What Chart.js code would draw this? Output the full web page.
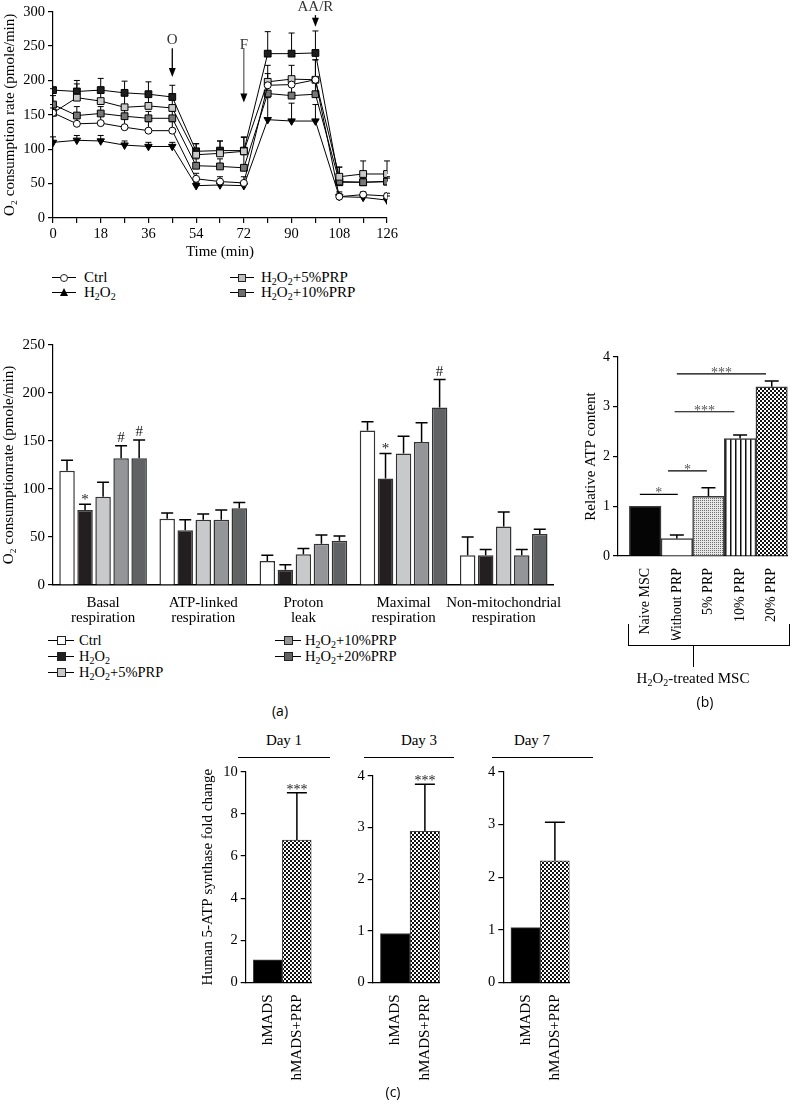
<!DOCTYPE html>
<html>
<head>
<meta charset="utf-8">
<script src="https://cdn.jsdelivr.net/npm/chart.js@4.4.0/dist/chart.umd.min.js"></script>
<style>
body { margin:0; width:793px; height:1115px; position:relative; background:#fff; overflow:hidden;
       font-family:'Liberation Serif', serif; color:#000; }
.box { position:absolute; }
.txt { position:absolute; white-space:nowrap; line-height:1; font-size:14px; }
.ctr { transform:translate(-50%, -50%); }
.txt sub { font-size:10px; vertical-align:-3px; line-height:0; }
.hl { position:absolute; height:0; border-top:1.2px solid #000; }
.vl { position:absolute; width:0; border-left:1.2px solid #000; }
.mk { position:absolute; box-sizing:border-box; }
.panel { font-family:'Open Sans', sans-serif; font-size:14px; }
</style>
</head>
<body>

<div class="box" style="left:0;top:0;width:400px;height:264px"><canvas id="ocr"></canvas></div>
<div class="box" style="left:0;top:330px;width:565px;height:300px"><canvas id="resp"></canvas></div>
<div class="box" style="left:560px;top:340px;width:233px;height:300px"><canvas id="atp"></canvas></div>
<div class="box" style="left:198px;top:760px;width:122px;height:330px"><canvas id="day1"></canvas></div>
<div class="box" style="left:330px;top:760px;width:118px;height:330px"><canvas id="day3"></canvas></div>
<div class="box" style="left:460px;top:760px;width:118px;height:330px"><canvas id="day7"></canvas></div>

<script>
// Oxygen consumption time course
const times = [0, 9, 18, 27, 36, 45, 54, 63, 72, 81, 90, 99, 108, 117, 126];
const ocrCtrl = [153, 137, 138, 132, 127, 127, 57, 53, 51, 193, 194, 201, 31, 34, 32];
const ocrCtrlErr = [160, 150, 150, 145, 140, 140, 65, 60, 60, 210, 205, 230, 38, 38, 36];
const ocrH2O2 = [110, 113, 112, 106, 104, 104, 47, 48, 47, 143, 141, 141, 31, 30, 26];
const ocrH2O2Err = [118, 120, 120, 112, 110, 110, 52, 52, 52, 175, 167, 165, 36, 36, 32];
const ocr5 = [153, 175, 170, 161, 163, 160, 92, 94, 97, 198, 202, 201, 60, 64, 64];
const ocr5Err = [165, 195, 190, 178, 178, 172, 108, 112, 118, 222, 222, 230, 74, 83, 83];
const ocr10 = [165, 149, 152, 148, 145, 145, 76, 75, 73, 181, 178, 180, 53, 52, 53];
const ocr10Err = [178, 162, 162, 158, 155, 155, 86, 86, 92, 196, 196, 200, 60, 58, 58];
const ocr20 = [186, 184, 186, 182, 180, 176, 97, 98, 98, 239, 239, 240, 52, 52, 53];
const ocr20Err = [188, 200, 203, 199, 198, 193, 108, 112, 117, 271, 269, 272, 74, 60, 60];

// Respiration parameters
const respCategories = [['Basal', 'respiration'], ['ATP-linked', 'respiration'], ['Proton', 'leak'],
                        ['Maximal', 'respiration'], ['Non-mitochondrial', 'respiration']];
const respCtrl = [119, 69, 25, 161, 31];
const respCtrlErr = [130, 75, 31, 170, 50];
const respH2O2 = [78, 57, 16, 111, 31];
const respH2O2Err = [84, 68, 21, 137, 37];
const resp5 = [92, 68, 32, 137, 61];
const resp5Err = [107, 74, 38, 155, 76];
const resp10 = [132, 68, 43, 149, 31];
const resp10Err = [145, 78, 52, 169, 37];
const resp20 = [132, 80, 46, 185, 53];
const resp20Err = [151, 86, 51, 214, 58];
const respSigH2O2 = ['*', '', '', '*', ''];
const respSig10 = ['#', '', '', '', ''];
const respSig20 = ['#', '', '', '#', ''];

// Relative ATP content
const atpGroups = ['Naive MSC', 'Without PRP', '5% PRP', '10% PRP', '20% PRP'];
const atpValues = [1.0, 0.35, 1.2, 2.36, 3.4];
const atpErr = [null, 0.42, 1.37, 2.43, 3.52];
const atpSigFrom = [0.83, 1.72, 1.93, 2.0];
const atpSigTo = [2.03, 2.95, 3.82, 4.82];
const atpSigLevel = [1.24, 1.71, 2.9, 3.66];
const atpSigText = ['*', '*', '***', '***'];

// ATP synthase fold change
const synthGroups = ['hMADS', 'hMADS+PRP'];
const day1Values = [1.07, 6.76];
const day1Err = [null, 9.0];
const day3Values = [0.95, 2.93];
const day3Err = [null, 3.84];
const day7Values = [1.04, 2.31];
const day7Err = [null, 3.04];

Chart.defaults.font.family = "'Liberation Serif', serif";
Chart.defaults.font.size = 14;
Chart.defaults.color = '#000';

// Patterns
function makePattern(w, h, draw) {
    const c = document.createElement('canvas');
    c.width = w; c.height = h;
    const g = c.getContext('2d');
    draw(g);
    return g.createPattern(c, 'repeat');
}
const checker = makePattern(4, 4, g => {
    g.fillStyle = '#fff'; g.fillRect(0, 0, 4, 4);
    g.fillStyle = '#111'; g.fillRect(0, 0, 2, 2); g.fillRect(2, 2, 2, 2);
});
const stipple = makePattern(2, 2, g => {
    g.fillStyle = '#e6e6e6'; g.fillRect(0, 0, 2, 2);
    g.fillStyle = '#707070'; g.fillRect(0, 0, 1, 1);
});
const stripes = makePattern(5, 1, g => {
    g.fillStyle = '#fff'; g.fillRect(0, 0, 5, 1);
    g.fillStyle = '#111'; g.fillRect(0, 0, 1.5, 1);
});

// Error bars + significance marks
function drawErrors(chart, opts) {
    const ctx = chart.ctx;
    const ys = chart.scales.y;
    chart.data.datasets.forEach((ds, di) => {
        if (!ds.errTop) return;
        chart.getDatasetMeta(di).data.forEach((el, i) => {
            const top = ds.errTop[i];
            if (top == null) return;
            const yt = ys.getPixelForValue(top);
            ctx.save();
            ctx.strokeStyle = '#000';
            ctx.lineWidth = opts.width || 1.5;
            ctx.beginPath();
            ctx.moveTo(el.x, el.y);
            ctx.lineTo(el.x, yt);
            ctx.moveTo(el.x - opts.cap / 2, yt);
            ctx.lineTo(el.x + opts.cap / 2, yt);
            ctx.stroke();
            const mark = ds.sig ? ds.sig[i] : '';
            if (mark) {
                ctx.fillStyle = '#222';
                ctx.font = (opts.sigSize || 14) + "px 'Liberation Serif'";
                ctx.textAlign = 'center';
                ctx.textBaseline = 'alphabetic';
                ctx.fillText(mark, el.x, yt + (mark === '#' ? -4 : (opts.starOffset || 0)));
            }
            ctx.restore();
        });
    });
}
const errorBars = {
    id: 'errorBars',
    beforeDatasetsDraw(chart, args, opts) { if (opts.behind) drawErrors(chart, opts); },
    afterDatasetsDraw(chart, args, opts) { if (!opts.behind) drawErrors(chart, opts); }
};

// Injection arrows on the time course
const arrowsPlugin = {
    id: 'arrows',
    afterDatasetsDraw(chart, args, opts) {
        const ctx = chart.ctx, xs = chart.scales.x, ys = chart.scales.y;
        opts.items.forEach(it => {
            const px = xs.getPixelForValue(it.x);
            const y0 = ys.getPixelForValue(it.from), y1 = ys.getPixelForValue(it.to);
            ctx.save();
            ctx.strokeStyle = '#000'; ctx.fillStyle = '#000'; ctx.lineWidth = it.w;
            ctx.beginPath(); ctx.moveTo(px, y0); ctx.lineTo(px, y1 - 6); ctx.stroke();
            ctx.beginPath(); ctx.moveTo(px - 3.5, y1 - 9); ctx.lineTo(px + 3.5, y1 - 9); ctx.lineTo(px, y1);
            ctx.closePath(); ctx.fill();
            ctx.font = "15px 'Liberation Serif'";
            ctx.fillStyle = '#333'; ctx.textAlign = 'center'; ctx.textBaseline = 'middle';
            ctx.fillText(it.label, px, ys.getPixelForValue(it.labelY));
            ctx.restore();
        });
    }
};

// Comparison lines on the ATP panel
const sigLines = {
    id: 'sigLines',
    afterDatasetsDraw(chart) {
        const ctx = chart.ctx, xs = chart.scales.x, ys = chart.scales.y;
        atpSigText.forEach((t, i) => {
            const x0 = xs.getPixelForValue(atpSigFrom[i]), x1 = xs.getPixelForValue(atpSigTo[i]);
            const y = ys.getPixelForValue(atpSigLevel[i]);
            ctx.save();
            ctx.strokeStyle = '#000'; ctx.lineWidth = 1.2;
            ctx.beginPath(); ctx.moveTo(x0, y); ctx.lineTo(x1, y); ctx.stroke();
            ctx.fillStyle = '#555'; ctx.font = "14px 'Liberation Serif'";
            ctx.textAlign = 'center'; ctx.textBaseline = 'alphabetic';
            ctx.fillText(t, (x0 + x1) / 2, y + 3);
            ctx.restore();
        });
    }
};

function yAxis(min, max, step, width, title, size, titleSize, titlePad) {
    return {
        min: min, max: max,
        afterFit: s => { s.width = width; },
        ticks: { stepSize: step, padding: 3, font: { size: size } },
        grid: { drawOnChartArea: false, tickLength: 5, color: '#000', lineWidth: 1.2 },
        border: { color: '#000', width: 1.2 },
        title: { display: !!title, text: title, font: { size: titleSize || size },
                 padding: { top: titlePad == null ? 2 : titlePad, bottom: 0 } }
    };
}

function series(label, values, err, style, fill, rotation) {
    return {
        label: label,
        data: times.map((t, i) => ({ x: t, y: values[i] })),
        errTop: err,
        borderColor: '#000', borderWidth: 1,
        pointStyle: style, pointRotation: rotation || 0,
        pointRadius: style === 'rect' ? 4.8 : (style === 'circle' ? 3.5 : 4.3),
        pointBackgroundColor: fill, pointBorderColor: '#000', pointBorderWidth: 1
    };
}

new Chart(document.getElementById('ocr'), {
    type: 'line',
    data: {
        datasets: [
            series('Ctrl', ocrCtrl, ocrCtrlErr, 'circle', '#fff'),
            series('H2O2', ocrH2O2, ocrH2O2Err, 'triangle', '#000', 180),
            series('H2O2+5%PRP', ocr5, ocr5Err, 'rect', '#c9c9c9'),
            series('H2O2+10%PRP', ocr10, ocr10Err, 'rect', '#777'),
            series('H2O2+20%PRP', ocr20, ocr20Err, 'rect', '#1e1e1e')
        ]
    },
    options: {
        responsive: true, maintainAspectRatio: false, animation: false, devicePixelRatio: 1,
        layout: { padding: { top: 10, right: 13, left: 0, bottom: 0 } },
        plugins: {
            legend: { display: false }, tooltip: { enabled: false },
            errorBars: { behind: true, cap: 6, width: 1 },
            arrows: { items: [
                { x: 45, from: 247, to: 205, labelY: 259, label: 'O', w: 1.3 },
                { x: 72, from: 247, to: 168, labelY: 252, label: 'F', w: 0.8 },
                { x: 99, from: 295, to: 278, labelY: 307, label: 'AA/R', w: 1.3 }
            ] }
        },
        scales: {
            x: {
                type: 'linear', min: 0, max: 126,
                afterFit: s => { s.height = 46; },
                ticks: { stepSize: 9, autoSkip: false, maxRotation: 0, padding: 2, font: { size: 14.5 },
                         callback: v => (v % 18 === 0 ? v : '') },
                grid: { drawOnChartArea: false, tickLength: 5, color: '#000', lineWidth: 1.2 },
                border: { color: '#000', width: 1.2 },
                title: { display: true, text: 'Time (min)', font: { size: 15 }, padding: { top: 2, bottom: 3 } }
            },
            y: yAxis(0, 300, 50, 53, 'O₂ consumption rate (pmole/min)', 14.5, 15, 1)
        }
    },
    plugins: [errorBars, arrowsPlugin]
});

function respSet(label, values, err, fill, sig) {
    return { label: label, data: values, errTop: err, sig: sig, backgroundColor: fill,
             borderColor: '#333', borderWidth: 1.5 };
}

new Chart(document.getElementById('resp'), {
    type: 'bar',
    data: {
        labels: respCategories,
        datasets: [
            respSet('Ctrl', respCtrl, respCtrlErr, '#fff'),
            respSet('H2O2', respH2O2, respH2O2Err, '#231f20', respSigH2O2),
            respSet('H2O2+5%PRP', resp5, resp5Err, '#c8c9ca'),
            respSet('H2O2+10%PRP', resp10, resp10Err, '#939598', respSig10),
            respSet('H2O2+20%PRP', resp20, resp20Err, '#616264', respSig20)
        ]
    },
    options: {
        responsive: true, maintainAspectRatio: false, animation: false, devicePixelRatio: 1,
        layout: { padding: { top: 15, right: 8, left: 0, bottom: 0 } },
        datasets: { bar: { categoryPercentage: 0.9, barPercentage: 0.86 } },
        plugins: { legend: { display: false }, tooltip: { enabled: false },
                   errorBars: { cap: 12, width: 1.5, sigSize: 15, starOffset: 0 } },
        scales: {
            x: {
                afterFit: s => { s.height = 45; },
                ticks: { autoSkip: false, maxRotation: 0, padding: 3, font: { size: 15, lineHeight: 1.0 } },
                grid: { display: false },
                border: { color: '#000', width: 1.5 }
            },
            y: yAxis(0, 250, 50, 53, 'O₂ consumptionrate (pmole/min)', 15, 15, 0)
        }
    },
    plugins: [errorBars]
});

function linearGroups(groups, min, max, height, size) {
    return {
        type: 'linear', min: min, max: max, offset: false,
        afterFit: s => { s.height = height; },
        afterBuildTicks: s => { s.ticks = groups.map((g, i) => ({ value: i + 1 })); },
        ticks: { autoSkip: false, minRotation: 90, maxRotation: 90, padding: 4, font: { size: size },
                 callback: v => groups[v - 1] },
        grid: { display: false },
        border: { color: '#000', width: 1.2 }
    };
}

new Chart(document.getElementById('atp'), {
    type: 'bar',
    data: {
        datasets: [{
            data: atpValues.map((v, i) => ({ x: i + 1, y: v })),
            errTop: atpErr,
            backgroundColor: ['#050505', '#fff', stipple, stripes, checker],
            borderColor: '#3a3a3a', borderWidth: 1.5,
            categoryPercentage: 1, barPercentage: 1
        }]
    },
    options: {
        responsive: true, maintainAspectRatio: false, animation: false, devicePixelRatio: 1,
        layout: { padding: { top: 17, right: 5, left: 0, bottom: 0 } },
        plugins: { legend: { display: false }, tooltip: { enabled: false },
                   errorBars: { cap: 14, width: 1.5 } },
        scales: {
            x: linearGroups(atpGroups, 0.14, 5.5, 84, 14),
            y: yAxis(0, 4, 1, 58, 'Relative ATP content', 14, 15, 22)
        }
    },
    plugins: [errorBars, sigLines]
});

function dayChart(id, values, err, max, step, yWidth, padTop, title) {
    new Chart(document.getElementById(id), {
        type: 'bar',
        data: {
            datasets: [{
                data: values.map((v, i) => ({ x: i + 1, y: v })),
                errTop: err,
                sig: id === 'day7' ? null : ['', '***'],
                backgroundColor: ['#000', checker],
                borderColor: '#444', borderWidth: 1,
                categoryPercentage: 1, barPercentage: 1
            }]
        },
        options: {
            responsive: true, maintainAspectRatio: false, animation: false, devicePixelRatio: 1,
            layout: { padding: { top: padTop, right: 5, left: 0, bottom: 0 } },
            plugins: { legend: { display: false }, tooltip: { enabled: false },
                       errorBars: { cap: 20, width: 1.5, sigSize: 14, starOffset: 1 } },
            scales: {
                x: linearGroups(synthGroups, 0.24, 2.5, 107.5, 15),
                y: yAxis(0, max, step, yWidth, title, 14.5, 15, 1)
            }
        },
        plugins: [errorBars]
    });
}
dayChart('day1', day1Values, day1Err, 10, 2, 47.7, 10.7, 'Human 5-ATP synthase fold change');
dayChart('day3', day3Values, day3Err, 4, 1, 42.7, 16, '');
dayChart('day7', day7Values, day7Err, 4, 1, 43.3, 11.7, '');

// HTML legends and labels
function put(cls, x, y, html, extra) {
    const d = document.createElement('div');
    d.className = cls;
    d.style.left = x + 'px';
    d.style.top = y + 'px';
    if (extra) Object.assign(d.style, extra);
    if (html != null) d.innerHTML = html;
    document.body.appendChild(d);
    return d;
}
function marker(kind, cx, cy, fill, size) {
    if (kind === 'tri') {
        put('mk', cx - 4.5, cy - 5, '', { width: 0, height: 0, borderLeft: '4.5px solid transparent',
            borderRight: '4.5px solid transparent', borderBottom: '8px solid #000' });
        return;
    }
    put('mk', cx - size / 2, cy - size / 2, '', { width: size + 'px', height: size + 'px',
        background: fill, border: '1px solid #222', borderRadius: kind === 'circle' ? '50%' : '0' });
}
function legendItem(x, y, w, kind, fill, size, html, textX, fontSize) {
    put('hl', x, y, '', { width: w + 'px' });
    marker(kind, x + w / 2, y + 0.5, fill, size);
    put('txt', textX, y - 7.5, html, { fontSize: fontSize + 'px' });
}
const h2o2 = 'H<sub>2</sub>O<sub>2</sub>';
legendItem(52, 277, 24, 'circle', '#fff', 8, 'Ctrl', 84, 15);
legendItem(52, 292, 24, 'tri', '#000', 8, h2o2, 84, 15);
legendItem(230, 277, 24, 'rect', '#bdbdbd', 8, h2o2 + '+5%PRP', 261, 15);
legendItem(230, 292, 24, 'rect', '#6e6e6e', 8, h2o2 + '+10%PRP', 261, 15);

legendItem(48, 640, 26, 'rect', '#fff', 9, 'Ctrl', 79, 14.5);
legendItem(48, 656, 26, 'rect', '#231f20', 9, h2o2, 79, 14.5);
legendItem(48, 672, 26, 'rect', '#c8c9ca', 9, h2o2 + '+5%PRP', 79, 14.5);
legendItem(275, 640, 26, 'rect', '#939598', 9, h2o2 + '+10%PRP', 305, 14.5);
legendItem(275, 656, 26, 'rect', '#616264', 9, h2o2 + '+20%PRP', 305, 14.5);

put('txt ctr panel', 280, 711, '(a)');

// bracket under ATP panel
put('hl', 628, 645, '', { width: '162px' });
put('vl', 628, 624, '', { height: '21px' });
put('vl', 789, 624, '', { height: '21px' });
put('vl', 693, 645, '', { height: '22px' });
put('txt ctr', 693, 678, h2o2 + '-treated MSC', { fontSize: '15px' });
put('txt ctr panel', 705, 702, '(b)');

// day headers
put('txt ctr', 284, 740, 'Day 1', { fontSize: '15px' });
put('hl', 238, 757, '', { width: '92px' });
put('txt ctr', 419, 740, 'Day 3', { fontSize: '15px' });
put('hl', 364, 757, '', { width: '90px' });
put('txt ctr', 532, 740, 'Day 7', { fontSize: '15px' });
put('hl', 492, 757, '', { width: '101px' });
put('txt ctr panel', 393, 1092, '(c)');
</script>
</body>
</html>
